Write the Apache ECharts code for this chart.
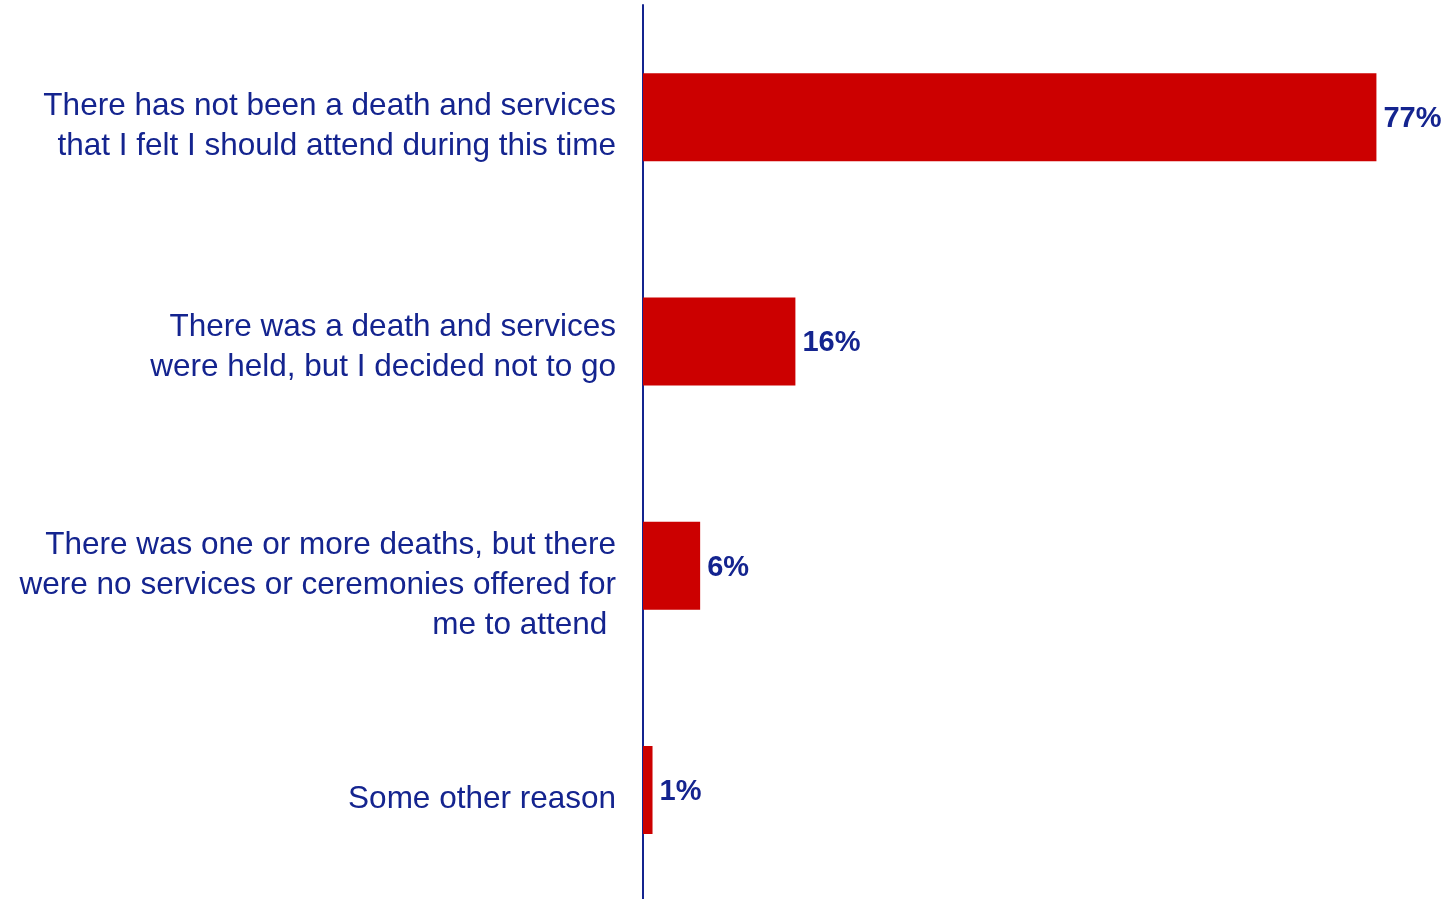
<!DOCTYPE html>
<html lang="en">
<head>
    <meta charset="utf-8"/>
    <title>Services attendance</title>
    <script src="https://cdn.jsdelivr.net/npm/echarts@6/dist/echarts.min.js"></script>
    <style>
        html, body { margin: 0; padding: 0; background: #fff; }
        #main { width: 1449px; height: 899px; }
    </style>
</head>
<body>
<div id="main"></div>
<script>
    // categories, top to bottom
    var categories = [
        'There has not been a death and services\nthat I felt I should attend during this time',
        'There was a death and services\nwere held, but I decided not to go',
        'There was one or more deaths, but there\nwere no services or ceremonies offered for\nme to attend ',
        'Some other reason'
    ];
    var values = [77, 16, 6, 1];

    // labels sit a bit below the bar centre: height of an empty line put above each
    var labelGap = [18, 11, 40, 19];

    var navy = '#14248f';
    var font = 'Liberation Sans, Arial, Helvetica, sans-serif';
    var gapRich = {};
    labelGap.forEach(function (g, i) {
        gapRich['g' + i] = {fontSize: 1, lineHeight: g};
    });

    var chart = echarts.init(document.getElementById('main'));
    var option = {
        animation: false,
        grid: {left: 643, right: 44, top: 5, height: 897, containLabel: false, outerBoundsMode: 'none'},
        xAxis: {
            type: 'value',
            min: 0,
            max: 80,
            show: false
        },
        yAxis: {
            type: 'category',
            inverse: true,
            data: categories,
            axisLine: {show: true, lineStyle: {color: navy, width: 2}},
            axisTick: {show: false},
            axisLabel: {
                margin: 27,
                color: navy,
                fontFamily: font,
                fontSize: 31.5,
                lineHeight: 40,
                align: 'right',
                formatter: function (v, i) {
                    return '{g' + i + '| }\n' + v;
                },
                rich: gapRich
            }
        },
        series: [{
            type: 'bar',
            data: values,
            barWidth: 88,
            itemStyle: {color: '#cc0000'},
            label: {
                show: true,
                position: 'right',
                distance: 7,
                offset: [0, 2],
                formatter: '{c}%',
                color: navy,
                fontWeight: 'bold',
                fontFamily: font,
                fontSize: 29
            }
        }]
    };
    chart.setOption(option);
</script>
</body>
</html>
